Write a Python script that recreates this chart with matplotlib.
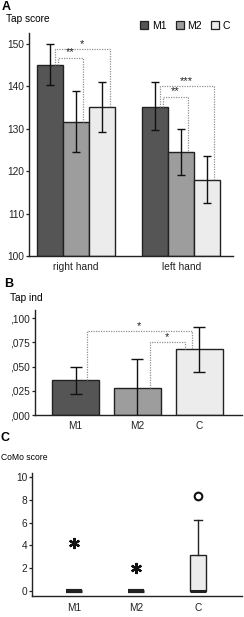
import matplotlib.pyplot as plt
from matplotlib.patches import Patch

# Panel A: tap score, mean +/- error per hand and group
groups = ["M1", "M2", "C"]
hands = ["right hand", "left hand"]
tap_mean = {"M1": [145.0, 135.1], "M2": [131.7, 124.6], "C": [135.1, 118.0]}
tap_lo = {"M1": [140.3, 129.7], "M2": [124.5, 119.0], "C": [129.3, 112.6]}
tap_hi = {"M1": [150.0, 141.0], "M2": [139.0, 130.0], "C": [141.0, 123.5]}

# Panel B: tap ind
ind_mean = [0.036, 0.028, 0.068]
ind_lo = [0.0215, -0.002, 0.0445]
ind_hi = [0.0495, 0.0575, 0.091]
ind_ticks = [0.0, 0.025, 0.05, 0.075, 0.1]
ind_ticklabels = [",000", ",025", ",050", ",075", ",100"]

# Panel C: CoMo score box plots
como_stats = [
    dict(med=0, q1=0, q3=0, whislo=0, whishi=0),
    dict(med=0, q1=0, q3=0, whislo=0, whishi=0),
    dict(med=0, q1=0, q3=3.1, whislo=0, whishi=6.2),
]
como_extreme = [4.2, 2.0, None]   # stars
como_outlier = [None, None, 8.3]  # circles

colors = {"M1": "#555555", "M2": "#9d9d9d", "C": "#ececec"}
edge = "#222222"
dot = dict(color="#909090", lw=0.9, ls=(0, (1, 1)))

plt.rcParams['font.family'] = ['Liberation Sans', 'DejaVu Sans']
fig = plt.figure(figsize=(2.44, 6.17), dpi=100)

def style(ax):
    for s in ("top", "right"):
        ax.spines[s].set_visible(False)
    for s in ("left", "bottom"):
        ax.spines[s].set_linewidth(1.0)
        ax.spines[s].set_color(edge)
    ax.tick_params(labelsize=7.3, length=2.5, width=0.9, pad=1, colors=edge)

# ---- A
axA = fig.add_axes([0.119, 0.585, 0.836, 0.361])
centers = [0, 4.06]
for k, g in enumerate(groups):
    xs = [c + k - 1 for c in centers]
    err = [[m - l for m, l in zip(tap_mean[g], tap_lo[g])],
           [h - m for m, h in zip(tap_mean[g], tap_hi[g])]]
    axA.bar(xs, [m - 100 for m in tap_mean[g]], 1.0, bottom=100,
            color=colors[g], edgecolor=edge, lw=1.0, label=g)
    axA.errorbar(xs, tap_mean[g], yerr=err, fmt="none", ecolor="#111111",
                 elinewidth=1.0, capsize=3, capthick=1.0)
axA.set_xlim(-1.81, 6.06)
axA.set_ylim(100, 152.5)
axA.set_yticks([100, 110, 120, 130, 140, 150])
axA.set_xticks(centers)
axA.set_xticklabels(hands)
style(axA)
axA.tick_params(axis="x", length=0, pad=4)

def bracket(ax, x1, y1, x2, y2, top, label, fs=8):
    ax.plot([x1, x1, x2, x2], [y1, top, top, y2], **dot)
    ax.text((x1 + x2) / 2, top, label, ha="center", va="bottom",
            fontsize=fs, color="#222222")

bracket(axA, -0.81, tap_mean["M1"][0], 1.31, tap_mean["C"][0], 148.7, "*")
bracket(axA, -0.69, tap_mean["M1"][0], 0.27, tap_mean["M2"][0], 146.8, "**")
bracket(axA, 3.23, tap_mean["M1"][1], 5.31, tap_mean["C"][1], 140.1, "***")
bracket(axA, 3.35, tap_mean["M1"][1], 4.31, tap_mean["M2"][1], 137.6, "**")

handles = [Patch(facecolor=colors[g], edgecolor=edge, lw=0.9) for g in groups]
fig.legend(handles, groups, loc="center left", bbox_to_anchor=(0.575, 0.958),
           ncol=3, frameon=False, fontsize=7.5, handlelength=0.75,
           handleheight=0.75, handletextpad=0.35, columnspacing=0.9,
           borderaxespad=0, borderpad=0)

fig.text(0.008, 0.989, "A", fontsize=9, fontweight="bold", va="center")
fig.text(0.025, 0.969, "Tap score", fontsize=7.3, va="center")

# ---- B
axB = fig.add_axes([0.142, 0.327, 0.850, 0.170])
xb = [0, 1, 2]
axB.bar(xb, ind_mean, 0.76, color=[colors[g] for g in groups],
        edgecolor=edge, lw=1.0)
axB.errorbar(xb, ind_mean,
             yerr=[[m - l for m, l in zip(ind_mean, ind_lo)],
                   [h - m for m, h in zip(ind_mean, ind_hi)]],
             fmt="none", ecolor="#111111", elinewidth=1.0, capsize=4, capthick=1.0)
axB.set_xlim(-0.66, 2.69)
axB.set_ylim(0, 0.108)
axB.set_yticks(ind_ticks)
axB.set_yticklabels(ind_ticklabels)
axB.set_xticks(xb)
axB.set_xticklabels(groups)
style(axB)
axB.tick_params(axis="x", length=0, pad=4)
bracket(axB, 0.185, ind_mean[0], 1.88, ind_mean[2], 0.0868, "*")
bracket(axB, 1.2, ind_mean[1], 1.77, ind_mean[2], 0.075, "*")

fig.text(0.016, 0.539, "B", fontsize=9, fontweight="bold", va="center")
fig.text(0.041, 0.517, "Tap ind", fontsize=7.3, va="center")

# ---- C
axC = fig.add_axes([0.131, 0.034, 0.861, 0.200])
for i, st in enumerate(como_stats):
    flat = st["q3"] == st["q1"]
    axC.bxp([st], positions=[i], widths=0.26, showfliers=False,
            patch_artist=True,
            boxprops=dict(facecolor=colors["C"], edgecolor=edge,
                          lw=3 if flat else 1.0),
            medianprops=dict(color=edge, lw=2.2),
            whiskerprops=dict(color=edge, lw=1.0),
            capprops=dict(color=edge, lw=1.0))
    if como_extreme[i] is not None:
        axC.plot(i, como_extreme[i], marker=(6, 2, 0), ms=8, color="#111111",
                 markeredgewidth=1.6, ls="none")
    if como_outlier[i] is not None:
        axC.plot(i, como_outlier[i], marker="o", ms=5.5, mfc="white",
                 mec="#111111", mew=1.5, ls="none")
axC.set_xlim(-0.68, 2.71)
axC.set_ylim(-0.47, 10.4)
axC.set_yticks([0, 2, 4, 6, 8, 10])
axC.set_xticks(xb)
axC.set_xticklabels(groups)
style(axC)
axC.tick_params(axis="x", length=0, pad=5)

fig.text(0.004, 0.290, "C", fontsize=9, fontweight="bold", va="center")
fig.text(0.006, 0.259, "CoMo score", fontsize=6.2, va="center")

fig.savefig("out.png", dpi=100)
